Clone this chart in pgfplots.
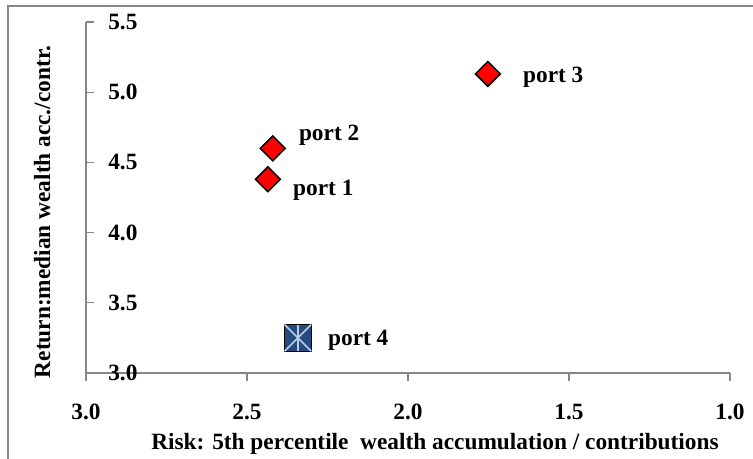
\documentclass[border=0pt]{standalone}
\usepackage{fontspec}
\setmainfont{Liberation Serif}
\usepackage{pgfplots}
\pgfplotsset{compat=1.18}
\definecolor{axgray}{RGB}{134,134,134}
\definecolor{pblue}{RGB}{35,75,128}
\definecolor{plight}{RGB}{185,205,229}
\newcommand{\lbl}{\fontsize{17.5}{21}\selectfont\bfseries}
\begin{document}
\begin{tikzpicture}
\useasboundingbox (0,0) rectangle (564.75pt,344.25pt);
\clip (0,0) rectangle (564.75pt,344.25pt);
\draw[axgray, line width=1.1pt] (6pt,-10pt) rectangle (580pt,339.75pt);
\begin{axis}[
 at={(64.5pt,64.5pt)}, anchor=south west,
 scale only axis, width=483pt, height=263.25pt,
 x dir=reverse, xmin=1, xmax=3, ymin=3, ymax=5.5,
 enlargelimits=false,
 axis lines=left, axis line style={-, axgray, line width=1pt},
 xtick={1,1.5,2,2.5,3}, ytick={3,3.5,4,4.5,5,5.5},
 tick align=outside, major tick length=6pt,
 tick style={axgray, line width=1pt},
 ytick style={xshift=6pt},
 ticklabel style={font=\lbl},
 xticklabel style={anchor=base, yshift=-29.25pt},
 yticklabel style={anchor=west, inner sep=0pt, xshift=22.5pt},
 /pgf/number format/fixed, /pgf/number format/fixed zerofill,
 /pgf/number format/precision=1, /pgf/number format/assume math mode=true,
 clip=false,
]
\addplot[only marks, mark=square*, mark size=6.6pt,
  mark options={rotate=45, fill=red, draw=black, line width=1.1pt}]
  coordinates {(2.435,4.38) (2.42,4.60) (1.752,5.13)};
\addplot[only marks, mark=square*, mark size=10pt,
  mark options={fill=pblue, draw=none}]
  coordinates {(2.342,3.25)};
\addplot[only marks, mark=x, mark size=14.1pt,
  mark options={draw=plight, line width=1.3pt}]
  coordinates {(2.342,3.25)};
\addplot[only marks, mark=|, mark size=10pt,
  mark options={draw=plight, line width=1.3pt}]
  coordinates {(2.342,3.25)};
\node[anchor=west, inner sep=0pt, font=\lbl, xshift=18.75pt, yshift=-8.25pt] at (axis cs:2.435,4.38) {port 1};
\node[anchor=west, inner sep=0pt, font=\lbl, xshift=19.5pt, yshift=9.75pt] at (axis cs:2.42,4.60) {port 2};
\node[anchor=west, inner sep=0pt, font=\lbl, xshift=26.25pt, yshift=-2.25pt] at (axis cs:1.752,5.13) {port 3};
\node[anchor=west, inner sep=0pt, font=\lbl, xshift=22.5pt, yshift=-1.5pt] at (axis cs:2.342,3.25) {port 4};
\end{axis}
\node[anchor=base, inner sep=0pt, font=\lbl] at (326.25pt,6.75pt) {Risk: 5th percentile\ \ wealth accumulation / contributions};
\node[anchor=base, inner sep=0pt, font=\lbl, rotate=90] at (37.5pt,185.25pt) {Return:median wealth acc./contr.};
\end{tikzpicture}
\end{document}
